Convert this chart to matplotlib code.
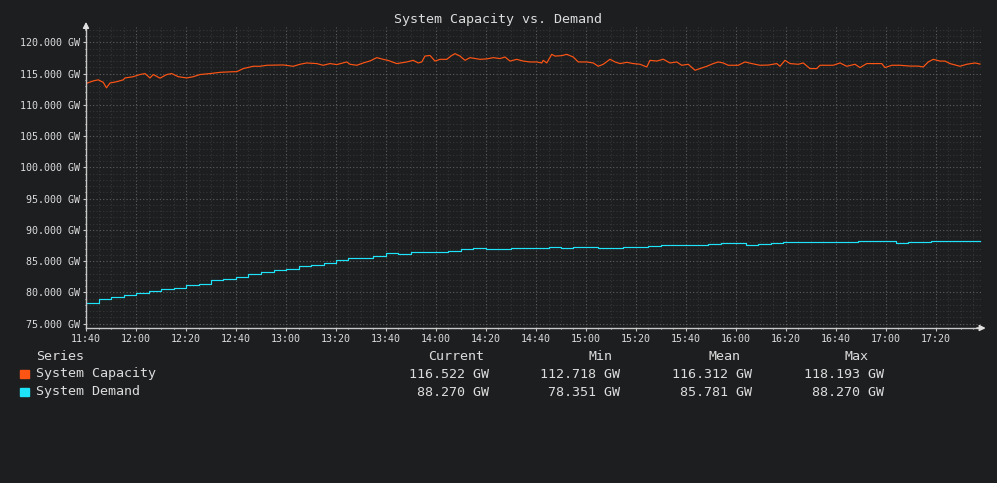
import matplotlib
matplotlib.use("Agg")
import matplotlib.pyplot as plt
from matplotlib.ticker import MultipleLocator, FuncFormatter

# minutes after 11:40
cap_t = [0, 2.9, 4.9, 6.9, 8.2, 9.6, 12.3, 14.9, 15.6, 18.9, 21.6, 23.6, 25.6, 26.9,
         29.6, 32.3, 34.3, 36.9, 40.3, 42.9, 45.6, 49.6, 53.6, 58.9, 60.3, 62.9, 66.9,
         69.6, 72.3, 78.9, 82.9, 85.6, 88.3, 92.3, 94.9, 97.6, 100.3, 104.3, 105.6,
         108.3, 110.9, 113.6, 116.3, 118.9, 120.9, 124.3, 128.3, 130.9, 132.9, 134.3,
         135.6, 137.6, 139.6, 141.6, 144.3, 146.3, 147.6, 149.6, 151.6, 153.6, 157.6,
         160.3, 162.9, 165.6, 167.6, 169.6, 172.3, 174.9, 177.6, 180.3, 182.3, 182.9,
         184.3, 186.3, 187.6, 190.3, 192.3, 194.9, 196.9, 200.3, 202.9, 204.9, 206.9,
         209.6, 211.6, 213.6, 216.3, 218.9, 221.6, 224.3, 225.6, 228.3, 230.9, 233.6,
         236.3, 238.3, 240.9, 243.6, 245.6, 248.3, 250.9, 252.9, 254.9, 256.9, 260.9,
         263.6, 266.3, 269.6, 272.9, 276.3, 277.6, 279.6, 281.6, 284.9, 286.9, 289.6,
         292.3, 293.6, 296.3, 298.9, 301.6, 304.3, 307.6, 309.6, 312.3, 314.9, 318.3,
         319.6, 322.3, 325.6, 329.6, 332.9, 334.9, 336.9, 338.9, 341.6, 343.6, 345.6,
         349.6, 352.3, 355.6, 357.6]
cap_v = [113.41, 113.83, 114.0, 113.6, 112.72, 113.5, 113.7, 114.0, 114.3, 114.5, 114.85,
         115.0, 114.3, 114.85, 114.27, 114.85, 115.0, 114.5, 114.3, 114.5, 114.85, 115.0,
         115.2, 115.3, 115.3, 115.8, 116.17, 116.17, 116.33, 116.38, 116.17, 116.49,
         116.7, 116.6, 116.33, 116.6, 116.44, 116.86, 116.49, 116.33, 116.7, 117.02,
         117.55, 117.28, 117.1, 116.6, 116.86, 117.12, 116.7, 116.86, 117.8, 117.9, 117.0,
         117.28, 117.28, 117.9, 118.19, 117.8, 117.12, 117.55, 117.28, 117.35, 117.55,
         117.4, 117.65, 117.0, 117.28, 117.0, 116.86, 116.86, 116.7, 117.12, 116.7, 118.08,
         117.8, 117.87, 118.08, 117.65, 116.86, 116.86, 116.7, 116.17, 116.49, 117.29,
         116.86, 116.6, 116.8, 116.6, 116.49, 116.06, 117.12, 117.0, 117.3, 116.7, 116.86,
         116.33, 116.49, 115.53, 115.8, 116.17, 116.6, 116.86, 116.7, 116.33, 116.33,
         116.86, 116.6, 116.33, 116.36, 116.6, 116.17, 117.12, 116.6, 116.49, 116.7, 115.8,
         115.8, 116.33, 116.33, 116.33, 116.7, 116.17, 116.49, 115.96, 116.6, 116.6, 116.6,
         115.96, 116.33, 116.33, 116.2, 116.2, 116.06, 116.86, 117.28, 117.0, 117.0, 116.6,
         116.17, 116.49, 116.7, 116.52]

dem_t = [0, 5, 10, 15, 20, 25, 30, 35, 40, 45, 50, 55, 60, 65, 70, 75, 80, 85, 90, 95,
         100, 105, 115, 120, 125, 130, 145, 150, 155, 160, 170, 185, 190, 195, 205, 215,
         225, 230, 249, 254, 264, 269, 274, 279, 309, 324, 329, 338, 357.6]
dem_v = [78.35, 78.96, 79.28, 79.60, 79.92, 80.18, 80.55, 80.71, 81.24, 81.40, 81.99,
         82.15, 82.47, 82.89, 83.27, 83.53, 83.75, 84.23, 84.43, 84.70, 85.12, 85.50,
         85.87, 86.30, 86.14, 86.46, 86.62, 86.94, 87.10, 86.94, 87.10, 87.30, 87.10,
         87.30, 87.10, 87.30, 87.46, 87.62, 87.73, 87.89, 87.57, 87.73, 87.89, 88.05,
         88.20, 87.89, 88.05, 88.27, 88.27]

series = ["System Capacity", "System Demand"]
colors = ["#ff5514", "#1ee4fa"]
stat_cols = ["Current", "Min", "Mean", "Max"]
stats = [["116.522 GW", "112.718 GW", "116.312 GW", "118.193 GW"],
         ["88.270 GW", "78.351 GW", "85.781 GW", "88.270 GW"]]

bg = "#1d1e20"
fg = "#dcdcdc"
mono = "DejaVu Sans Mono"

W, H = 997, 483
fig = plt.figure(figsize=(W / 100, H / 100), dpi=100, facecolor=bg)
left, right, top, bottom = 86, 983, 26.7, 328
ax = fig.add_axes([left / W, (H - bottom) / H, (right - left) / W, (bottom - top) / H])
ax.set_facecolor(bg)

ax.plot(cap_t, cap_v, color=colors[0], lw=0.85)
ax.plot(dem_t, dem_v, color=colors[1], lw=0.85, drawstyle="steps-post")

ax.set_xlim(0, (right - left) / 2.5)
ax.set_ylim(74.3, 122.5)

ax.xaxis.set_major_locator(MultipleLocator(20))
ax.xaxis.set_minor_locator(MultipleLocator(5))
ax.yaxis.set_major_locator(MultipleLocator(5))
ax.yaxis.set_minor_locator(MultipleLocator(1))

def hhmm(x, pos):
    m = int(round(x)) + 11 * 60 + 40
    return f"{m // 60:02d}:{m % 60:02d}"

ax.xaxis.set_major_formatter(FuncFormatter(hhmm))
ax.yaxis.set_major_formatter(FuncFormatter(lambda v, p: f"{v:.3f} GW"))

ax.grid(which="major", color="#5e5e5e", ls=(0, (1, 2)), lw=0.8)
ax.grid(which="minor", color="#363636", ls=(0, (1, 2)), lw=0.8)
ax.set_axisbelow(True)

for s in ["top", "right"]:
    ax.spines[s].set_visible(False)
for s in ["left", "bottom"]:
    ax.spines[s].set_color("#c8c8c8")
    ax.spines[s].set_linewidth(1.0)

ax.tick_params(which="both", colors="#c8c8c8", labelcolor=fg, labelsize=7.2,
               length=2, width=0.8, pad=2)
ax.tick_params(which="minor", length=1)
for lab in ax.get_xticklabels() + ax.get_yticklabels():
    lab.set_family(mono)

# axis arrows
ax.annotate("", xy=(0, 1.025), xycoords="axes fraction", xytext=(0, 0.98),
            arrowprops=dict(arrowstyle="-|>,head_length=0.35,head_width=0.18",
                            color="#e0e0e0", lw=1.0))
ax.annotate("", xy=(1.006, 0), xycoords="axes fraction", xytext=(0.99, 0),
            arrowprops=dict(arrowstyle="-|>,head_length=0.35,head_width=0.18",
                            color="#e0e0e0", lw=1.0))

def ftext(x, y, s, **kw):
    fig.text(x / W, 1 - y / H, s, family=mono, color=fg, va="center", **kw)

ftext(498, 19, "System Capacity vs. Demand", ha="center", fontsize=9.6)

ftext(36, 356, "Series", ha="left", fontsize=9.6)
head_x = [484, 612, 740, 868]
val_x = [489, 620, 752, 884]
for hx, name in zip(head_x, stat_cols):
    ftext(hx, 356, name, ha="right", fontsize=9.6)
for i, (name, col) in enumerate(zip(series, colors)):
    y = 374 + 18 * i
    fig.patches.append(plt.Rectangle((20 / W, 1 - (y + 4) / H), 9 / W, 8 / H,
                                     transform=fig.transFigure, color=col))
    ftext(36, y, name, ha="left", fontsize=9.6)
    for vx, s in zip(val_x, stats[i]):
        ftext(vx, y, s, ha="right", fontsize=9.6)

fig.savefig("out.png", dpi=100, facecolor=bg)
